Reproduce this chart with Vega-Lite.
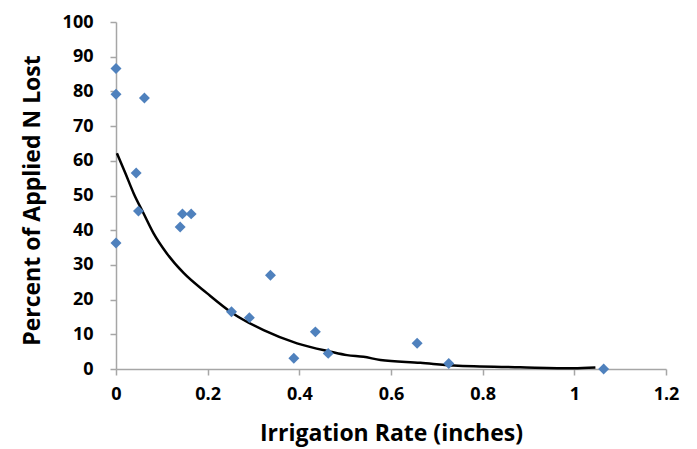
{
  "$schema": "https://vega.github.io/schema/vega-lite/v6.json",
  "width": 550,
  "height": 347,
  "autosize": {"type": "none"},
  "padding": {"left": 116, "top": 22, "right": 31, "bottom": 80},
  "config": {
    "view": {"stroke": null},
    "font": "Open Sans",
    "axis": {
      "grid": false,
      "domainColor": "#A6A6A6",
      "domainWidth": 1.5,
      "tickColor": "#A6A6A6",
      "tickWidth": 1.5,
      "tickSize": 6,
      "labelOverlap": false,
      "labelFlush": false,
      "labelFont": "Open Sans",
      "labelFontSize": 18,
      "labelFontWeight": "bold",
      "labelColor": "#000000",
      "titleFont": "Open Sans",
      "titleFontSize": 23,
      "titleFontWeight": "bold",
      "titleColor": "#000000"
    }
  },
  "datasets": {
    "obs": [
      {"rate": 0.0, "lost": 86.6},
      {"rate": 0.0, "lost": 79.2},
      {"rate": 0.062, "lost": 78.1},
      {"rate": 0.0, "lost": 36.3},
      {"rate": 0.044, "lost": 56.5},
      {"rate": 0.049, "lost": 45.5},
      {"rate": 0.140, "lost": 40.9},
      {"rate": 0.145, "lost": 44.7},
      {"rate": 0.164, "lost": 44.7},
      {"rate": 0.252, "lost": 16.5},
      {"rate": 0.291, "lost": 14.8},
      {"rate": 0.337, "lost": 27.0},
      {"rate": 0.388, "lost": 3.1},
      {"rate": 0.435, "lost": 10.7},
      {"rate": 0.463, "lost": 4.5},
      {"rate": 0.657, "lost": 7.4},
      {"rate": 0.726, "lost": 1.6},
      {"rate": 1.064, "lost": 0.0}
    ],
    "fit": [
      {"rate": 0.002, "lost": 62.2},
      {"rate": 0.0205, "lost": 56.4},
      {"rate": 0.0386, "lost": 50.6},
      {"rate": 0.060, "lost": 44.9},
      {"rate": 0.082, "lost": 39.1},
      {"rate": 0.111, "lost": 33.3},
      {"rate": 0.148, "lost": 27.6},
      {"rate": 0.199, "lost": 21.8},
      {"rate": 0.252, "lost": 16.3},
      {"rate": 0.322, "lost": 11.2},
      {"rate": 0.395, "lost": 7.4},
      {"rate": 0.468, "lost": 5.0},
      {"rate": 0.504, "lost": 4.0},
      {"rate": 0.540, "lost": 3.5},
      {"rate": 0.577, "lost": 2.6},
      {"rate": 0.664, "lost": 1.8},
      {"rate": 0.737, "lost": 1.0},
      {"rate": 0.882, "lost": 0.5},
      {"rate": 0.998, "lost": 0.2},
      {"rate": 1.046, "lost": 0.4}
    ]
  },
  "encoding": {
    "x": {"field": "rate", "type": "quantitative", "scale": {"domain": [0, 1.2], "nice": false}, "axis": {"title": "Irrigation Rate (inches)", "values": [0, 0.2, 0.4, 0.6, 0.8, 1, 1.2], "labelOverlap": false, "labelFlush": false, "labelExpr": "datum.value == 0 ? '0' : datum.value == 1 ? '1' : format(datum.value, '.1f')", "labelPadding": 10, "titlePadding": 19}},
    "y": {"field": "lost", "type": "quantitative", "scale": {"domain": [0, 100], "nice": false}, "axis": {"title": "Percent of Applied N Lost", "values": [0, 10, 20, 30, 40, 50, 60, 70, 80, 90, 100], "labelOverlap": false, "labelPadding": 17, "titlePadding": 18, "titleY": 178}}
  },
  "layer": [
    {
      "data": {"name": "fit"},
      "mark": {"type": "line", "color": "#000000", "strokeWidth": 2.5, "interpolate": "monotone"}
    },
    {
      "data": {"name": "obs"},
      "mark": {"type": "point", "shape": "diamond", "filled": true, "color": "#4F81BD", "opacity": 1, "size": 120}
    }
  ]
}
